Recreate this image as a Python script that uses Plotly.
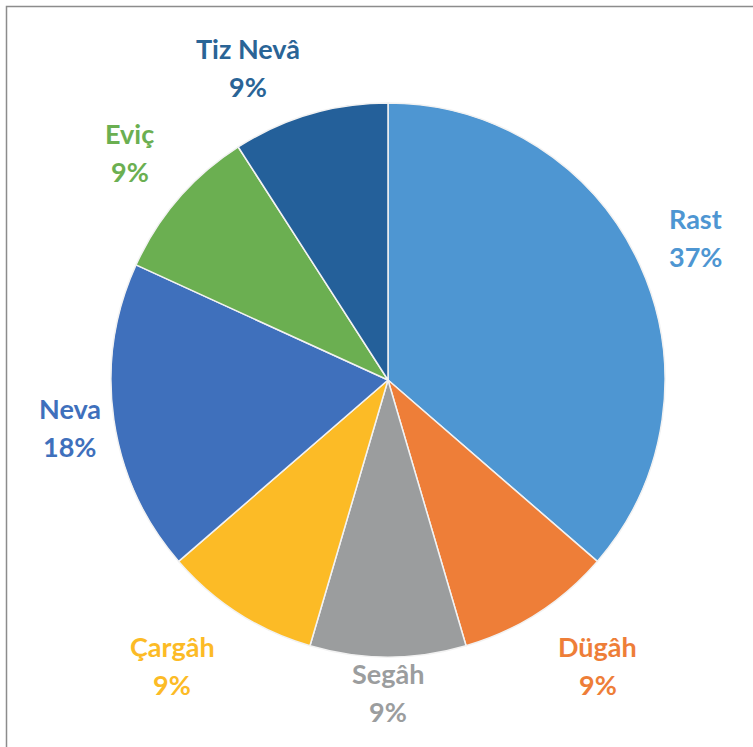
import math
import plotly.graph_objects as go

# ---- data ----
labels = ["Rast", "Dügâh", "Segâh", "Çargâh", "Neva", "Eviç", "Tiz Nevâ"]
values = [4, 1, 1, 1, 2, 1, 1]
pct_text = ["37%", "9%", "9%", "9%", "18%", "9%", "9%"]

# ---- style ----
colors = ["#4E96D2", "#EE7E38", "#9B9D9E", "#FCBB26", "#3F70BC", "#6BAF51", "#24609A"]
text_colors = ["#4E96D2", "#EE7E38", "#9B9D9E", "#FCBB26", "#3F70BC", "#6BAF51", "#2A6496"]
label_nudge = [(5, -4), (30, 6), (0, -20), (-36, 6), (11, 0), (-7, -10), (-46, 6)]

W, H = 753, 747
cx, cy, R = 388, 380, 277
label_dist = 1.2
line_gap = 19

fig = go.Figure()
fig.add_trace(go.Pie(
    labels=labels, values=values, sort=False, direction="clockwise", rotation=0,
    marker=dict(colors=colors, line=dict(color="#F2F2F2", width=1.5)),
    textinfo="none", hoverinfo="label+percent", showlegend=False,
    domain=dict(x=[(cx - R) / W, (cx + R) / W], y=[1 - (cy + R) / H, 1 - (cy - R) / H]),
))

total = sum(values)
cum = 0
annotations = []
for i, v in enumerate(values):
    mid = (cum + v / 2) / total * 2 * math.pi
    cum += v
    px = cx + math.sin(mid) * R * label_dist + label_nudge[i][0]
    py = cy - math.cos(mid) * R * label_dist + label_nudge[i][1]
    for txt, off in ((labels[i], -line_gap), (pct_text[i], line_gap)):
        annotations.append(dict(
            x=px / W, y=1 - (py + off) / H, xref="paper", yref="paper",
            text="<b>%s</b>" % txt, showarrow=False, xanchor="center", yanchor="middle",
            font=dict(family="Lato", size=27, color=text_colors[i]),
        ))

fig.update_layout(
    width=W, height=H, margin=dict(l=0, r=0, t=0, b=0),
    paper_bgcolor="white", plot_bgcolor="white",
    annotations=annotations,
    shapes=[dict(type="rect", xref="paper", yref="paper",
                 x0=6.5 / W, x1=1.02, y0=-0.02, y1=1 - 6.5 / H,
                 line=dict(color="#8C8C8C", width=1.5), fillcolor="rgba(0,0,0,0)")],
)

fig.write_html("out.html", config={"displayModeBar": False},
               post_script="document.body.style.margin='0';document.body.style.overflow='hidden';")
